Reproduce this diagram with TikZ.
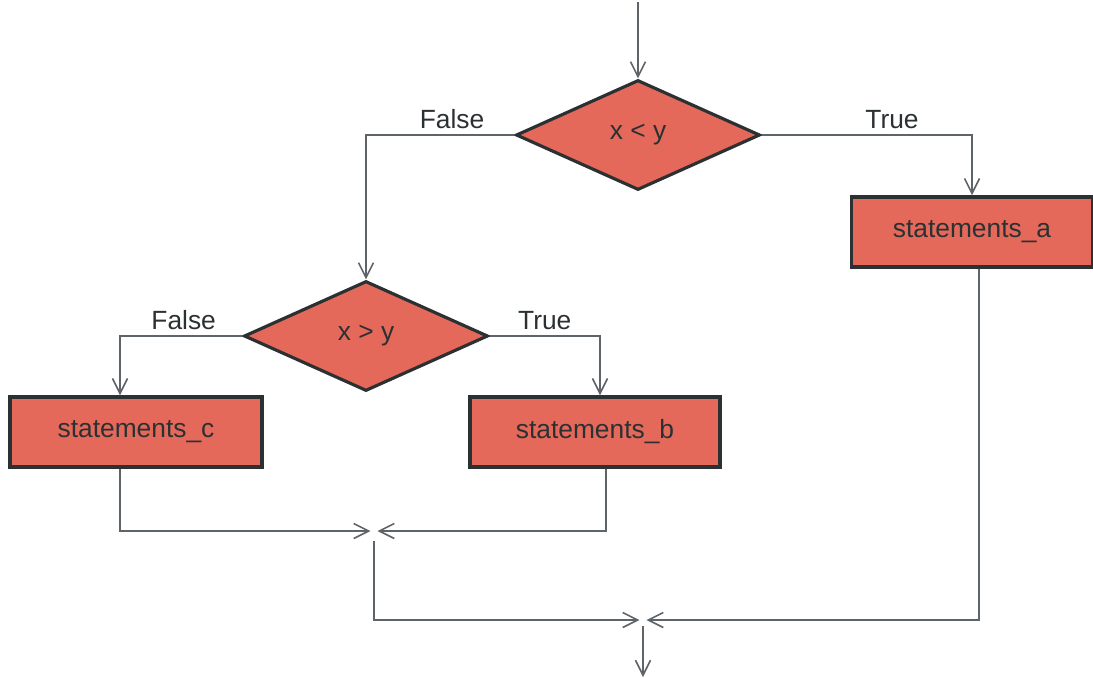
\documentclass[tikz,border=0pt]{standalone}
\usepackage{fontspec}
\setmainfont{Liberation Sans}
\usetikzlibrary{shapes.geometric,arrows.meta}
\definecolor{boxred}{HTML}{E5695A}
\definecolor{ink}{HTML}{2B3032}
\definecolor{linegray}{HTML}{5F6469}
\begin{document}
\begin{tikzpicture}[x=0.02cm,y=-0.02cm,
  font=\fontsize{15}{18}\selectfont,
  test/.style={diamond,draw=ink,fill=boxred,line width=1.8pt,minimum width=4.88cm,minimum height=2.2cm,inner sep=0pt,text=ink},
  stmt/.style={rectangle,draw=ink,fill=boxred,line width=2pt,minimum height=1.4cm,text=ink},
  flow/.style={draw=linegray,line width=0.9pt,-{Straight Barb[length=0.3cm,width=0.3cm]}},
  lbl/.style={text=ink,above}]
\useasboundingbox (0,0) rectangle (1093,677);
\node[test] (d1) at (638,135) {x < y};
\node[stmt,minimum width=4.82cm] (sa) at (972,232) {statements\_a};
\node[test] (d2) at (366,336) {x > y};
\node[stmt,minimum width=5.04cm] (sc) at (136,432) {statements\_c};
\node[stmt,minimum width=5cm] (sb) at (595,432) {statements\_b};
\coordinate (top) at (638,2);
\coordinate (m1) at (374,531);
\coordinate (m2) at (643,620);
\coordinate (end) at (643,677);
\draw[flow] (top) -- (d1);
\draw[flow] (d1.west) -| node[lbl,pos=0.21]{False} (d2.north);
\draw[flow] (d1.east) -| node[lbl,pos=0.31]{True} (sa.north);
\draw[flow] (d2.west) -| node[lbl,pos=0.24]{False} ([xshift=-0.32cm]sc.north);
\draw[flow] (d2.east) -| node[lbl,pos=0.25]{True} ([xshift=0.1cm]sb.north);
\draw[flow,shorten >=2pt] ([xshift=-0.32cm]sc.south) |- (m1);
\draw[flow,shorten >=2pt] ([xshift=0.22cm]sb.south) |- (m1);
\draw[flow,shorten <=0.2cm,shorten >=2pt] (m1) |- (m2);
\draw[flow,shorten >=2pt] ([xshift=0.14cm]sa.south) |- (m2);
\draw[flow,shorten <=0.12cm] (m2) -- (end);
\end{tikzpicture}
\end{document}
